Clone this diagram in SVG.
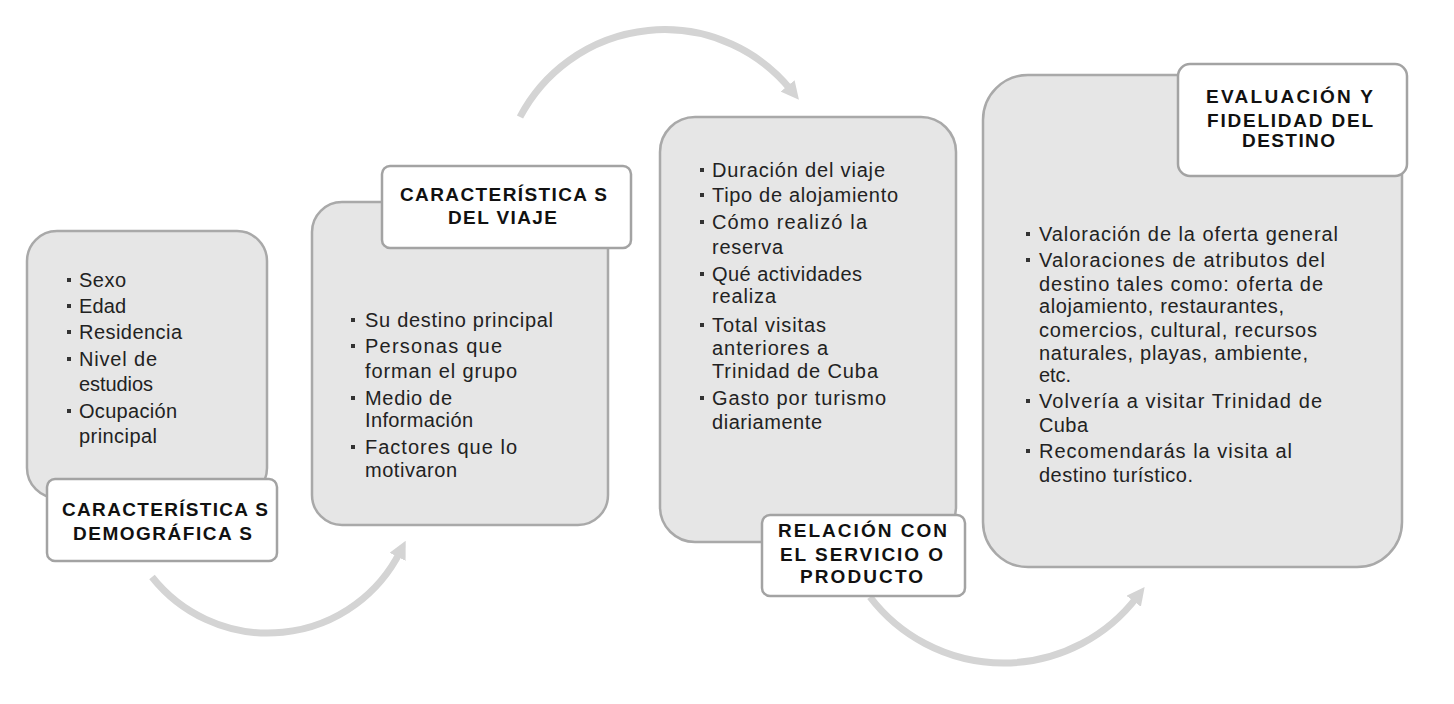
<svg xmlns="http://www.w3.org/2000/svg" width="1454" height="704" viewBox="0 0 1454 704">
<style>
.box{fill:#e6e6e6;stroke:#a9a9a9;stroke-width:2.5}
.lab{fill:#ffffff;stroke:#a3a3a3;stroke-width:2.5}
.t{font-family:"Liberation Sans",Arial,sans-serif;font-size:20px;fill:#222222}
.h{font-family:"Liberation Sans",Arial,sans-serif;font-size:19px;font-weight:bold;fill:#111111}
.b{fill:#333333}
.arc{fill:none;stroke:#d4d4d4;stroke-width:7;marker-end:url(#ah)}
</style>
<defs>
<marker id="ah" viewBox="0 0 10 10" refX="3" refY="5" markerUnits="userSpaceOnUse" markerWidth="18" markerHeight="18" orient="auto">
<path d="M0,0 L10,5 L0,10 z" fill="#d4d4d4"/>
</marker>
</defs>
<rect width="1454" height="704" fill="#ffffff"/>
<g id="connectors">
<path class="arc" d="M152,577 A148,148 0 0 0 400,552"/>
<path class="arc" d="M520,117 A163,163 0 0 1 791,90"/>
<path class="arc" d="M870,597 A168,168 0 0 0 1137,597"/>
</g>
<g id="node1">
<rect class="box" x="27" y="231" width="240" height="267" rx="30"/>
<rect class="b" x="67" y="278" width="4" height="4"/><text class="t" x="79" y="287" textLength="47">Sexo</text>
<rect class="b" x="67" y="304" width="4" height="4"/><text class="t" x="79" y="313" textLength="47">Edad</text>
<rect class="b" x="67" y="330" width="4" height="4"/><text class="t" x="79" y="339" textLength="103">Residencia</text>
<rect class="b" x="67" y="357" width="4" height="4"/><text class="t" x="79" y="366" textLength="78">Nivel de</text>
<text class="t" x="79" y="391" textLength="74">estudios</text>
<rect class="b" x="67" y="409" width="4" height="4"/><text class="t" x="79" y="418" textLength="98">Ocupación</text>
<text class="t" x="79" y="443" textLength="78">principal</text>
<rect class="lab" x="47" y="479" width="230" height="82" rx="8"/>
<text class="h" x="62" y="516" textLength="206">CARACTERÍSTICA S</text>
<text class="h" x="73" y="540" textLength="179">DEMOGRÁFICA S</text>
</g>
<g id="node2">
<rect class="box" x="312" y="202" width="296" height="323" rx="30"/>
<rect class="b" x="351" y="318" width="4" height="4"/><text class="t" x="365" y="327" textLength="188">Su destino  principal</text>
<rect class="b" x="351" y="344" width="4" height="4"/><text class="t" x="365" y="353" textLength="137">Personas  que</text>
<text class="t" x="365" y="378" textLength="152">forman el grupo</text>
<rect class="b" x="351" y="396" width="4" height="4"/><text class="t" x="365" y="405" textLength="87">Medio de</text>
<text class="t" x="365" y="427" textLength="108">Información</text>
<rect class="b" x="351" y="445" width="4" height="4"/><text class="t" x="365" y="454" textLength="152">Factores  que lo</text>
<text class="t" x="365" y="477" textLength="92">motivaron</text>
<rect class="lab" x="382" y="166" width="249" height="82" rx="8"/>
<text class="h" x="400" y="201" textLength="207">CARACTERÍSTICA S</text>
<text class="h" x="448" y="224" textLength="109">DEL VIAJE</text>
</g>
<g id="node3">
<rect class="box" x="660" y="117" width="296" height="425" rx="35"/>
<rect class="b" x="700" y="168" width="4" height="4"/><text class="t" x="712" y="177" textLength="173">Duración  del  viaje</text>
<rect class="b" x="700" y="193" width="4" height="4"/><text class="t" x="712" y="202" textLength="186">Tipo de alojamiento</text>
<rect class="b" x="700" y="220" width="4" height="4"/><text class="t" x="712" y="229" textLength="155">Cómo realizó  la</text>
<text class="t" x="712" y="254" textLength="71">reserva</text>
<rect class="b" x="700" y="272" width="4" height="4"/><text class="t" x="712" y="281" textLength="150">Qué actividades</text>
<text class="t" x="712" y="303" textLength="64">realiza</text>
<rect class="b" x="700" y="323" width="4" height="4"/><text class="t" x="712" y="332" textLength="114">Total  visitas</text>
<text class="t" x="712" y="355" textLength="116">anteriores   a</text>
<text class="t" x="712" y="378" textLength="166">Trinidad  de  Cuba</text>
<rect class="b" x="700" y="396" width="4" height="4"/><text class="t" x="712" y="405" textLength="174">Gasto  por  turismo</text>
<text class="t" x="712" y="429" textLength="110">diariamente</text>
<rect class="lab" x="762" y="515" width="203" height="81" rx="8"/>
<text class="h" x="778" y="537" textLength="169">RELACIÓN  CON</text>
<text class="h" x="780" y="561" textLength="163">EL SERVICIO  O</text>
<text class="h" x="800" y="583" textLength="123">PRODUCTO</text>
</g>
<g id="node4">
<rect class="box" x="983" y="75" width="419" height="492" rx="45"/>
<rect class="b" x="1026" y="232" width="4" height="4"/><text class="t" x="1039" y="241" textLength="299">Valoración  de la oferta  general</text>
<rect class="b" x="1026" y="258" width="4" height="4"/><text class="t" x="1039" y="267" textLength="286">Valoraciones   de atributos   del</text>
<text class="t" x="1039" y="291" textLength="284">destino  tales  como:  oferta  de</text>
<text class="t" x="1039" y="313" textLength="245">alojamiento,  restaurantes,</text>
<text class="t" x="1039" y="337" textLength="278">comercios,  cultural,  recursos</text>
<text class="t" x="1039" y="360" textLength="269">naturales,  playas,  ambiente,</text>
<text class="t" x="1039" y="382" textLength="32">etc.</text>
<rect class="b" x="1026" y="399" width="4" height="4"/><text class="t" x="1039" y="408" textLength="283">Volvería  a visitar  Trinidad  de</text>
<text class="t" x="1039" y="432" textLength="49">Cuba</text>
<rect class="b" x="1026" y="449" width="4" height="4"/><text class="t" x="1039" y="458" textLength="253">Recomendarás  la visita al</text>
<text class="t" x="1039" y="482" textLength="154">destino  turístico.</text>
<rect class="lab" x="1178" y="64" width="229" height="112" rx="12"/>
<text class="h" x="1206" y="103" textLength="167">EVALUACIÓN  Y</text>
<text class="h" x="1207" y="127" textLength="166">FIDELIDAD DEL</text>
<text class="h" x="1242" y="147" textLength="93">DESTINO</text>
</g>
</svg>
